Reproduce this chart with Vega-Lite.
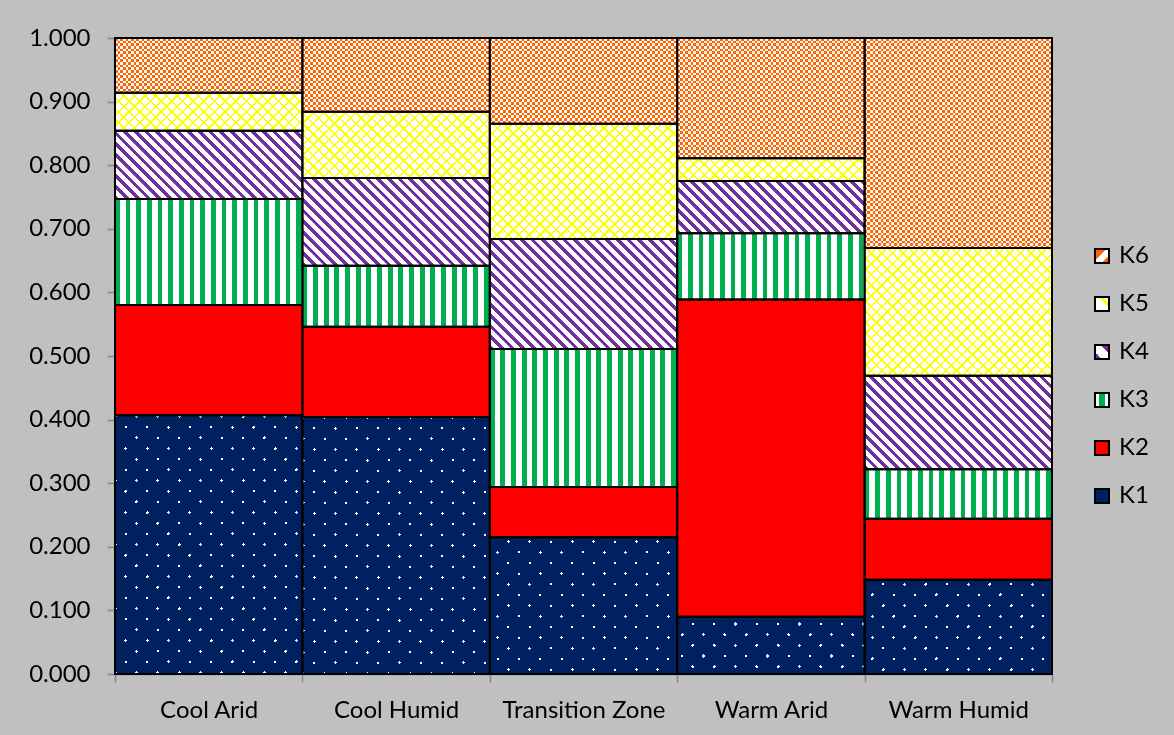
{
"$schema":"https://vega.github.io/schema/vega-lite/v6.json",
"autosize":"none",
"width":937,"height":636,
"padding":{"left":115,"top":38,"right":122,"bottom":61},
"background":"#C0C0C0",
"params":[
{"name":"S30a","value":[
{"offset":0,"color":"#000"},{"offset":0.015,"color":"#000"},{"offset":0.015,"color":"#fff"},{"offset":0.03333,"color":"#fff"},
{"offset":0.03333,"color":"#000"},{"offset":0.04833,"color":"#000"},{"offset":0.04833,"color":"#fff"},{"offset":0.06667,"color":"#fff"},
{"offset":0.06667,"color":"#000"},{"offset":0.08167,"color":"#000"},{"offset":0.08167,"color":"#fff"},{"offset":0.1,"color":"#fff"},
{"offset":0.1,"color":"#000"},{"offset":0.115,"color":"#000"},{"offset":0.115,"color":"#fff"},{"offset":0.13333,"color":"#fff"},
{"offset":0.13333,"color":"#000"},{"offset":0.14833,"color":"#000"},{"offset":0.14833,"color":"#fff"},{"offset":0.16667,"color":"#fff"},
{"offset":0.16667,"color":"#000"},{"offset":0.18167,"color":"#000"},{"offset":0.18167,"color":"#fff"},{"offset":0.2,"color":"#fff"},
{"offset":0.2,"color":"#000"},{"offset":0.215,"color":"#000"},{"offset":0.215,"color":"#fff"},{"offset":0.23333,"color":"#fff"},
{"offset":0.23333,"color":"#000"},{"offset":0.24833,"color":"#000"},{"offset":0.24833,"color":"#fff"},{"offset":0.26667,"color":"#fff"},
{"offset":0.26667,"color":"#000"},{"offset":0.28167,"color":"#000"},{"offset":0.28167,"color":"#fff"},{"offset":0.3,"color":"#fff"},
{"offset":0.3,"color":"#000"},{"offset":0.315,"color":"#000"},{"offset":0.315,"color":"#fff"},{"offset":0.33333,"color":"#fff"},
{"offset":0.33333,"color":"#000"},{"offset":0.34833,"color":"#000"},{"offset":0.34833,"color":"#fff"},{"offset":0.36667,"color":"#fff"},
{"offset":0.36667,"color":"#000"},{"offset":0.38167,"color":"#000"},{"offset":0.38167,"color":"#fff"},{"offset":0.4,"color":"#fff"},
{"offset":0.4,"color":"#000"},{"offset":0.415,"color":"#000"},{"offset":0.415,"color":"#fff"},{"offset":0.43333,"color":"#fff"},
{"offset":0.43333,"color":"#000"},{"offset":0.44833,"color":"#000"},{"offset":0.44833,"color":"#fff"},{"offset":0.46667,"color":"#fff"},
{"offset":0.46667,"color":"#000"},{"offset":0.48167,"color":"#000"},{"offset":0.48167,"color":"#fff"},{"offset":0.5,"color":"#fff"},
{"offset":0.5,"color":"#000"},{"offset":0.515,"color":"#000"},{"offset":0.515,"color":"#fff"},{"offset":0.53333,"color":"#fff"},
{"offset":0.53333,"color":"#000"},{"offset":0.54833,"color":"#000"},{"offset":0.54833,"color":"#fff"},{"offset":0.56667,"color":"#fff"},
{"offset":0.56667,"color":"#000"},{"offset":0.58167,"color":"#000"},{"offset":0.58167,"color":"#fff"},{"offset":0.6,"color":"#fff"},
{"offset":0.6,"color":"#000"},{"offset":0.615,"color":"#000"},{"offset":0.615,"color":"#fff"},{"offset":0.63333,"color":"#fff"},
{"offset":0.63333,"color":"#000"},{"offset":0.64833,"color":"#000"},{"offset":0.64833,"color":"#fff"},{"offset":0.66667,"color":"#fff"},
{"offset":0.66667,"color":"#000"},{"offset":0.68167,"color":"#000"},{"offset":0.68167,"color":"#fff"},{"offset":0.7,"color":"#fff"},
{"offset":0.7,"color":"#000"},{"offset":0.715,"color":"#000"},{"offset":0.715,"color":"#fff"},{"offset":0.73333,"color":"#fff"},
{"offset":0.73333,"color":"#000"},{"offset":0.74833,"color":"#000"},{"offset":0.74833,"color":"#fff"},{"offset":0.76667,"color":"#fff"},
{"offset":0.76667,"color":"#000"},{"offset":0.78167,"color":"#000"},{"offset":0.78167,"color":"#fff"},{"offset":0.8,"color":"#fff"},
{"offset":0.8,"color":"#000"},{"offset":0.815,"color":"#000"},{"offset":0.815,"color":"#fff"},{"offset":0.83333,"color":"#fff"},
{"offset":0.83333,"color":"#000"},{"offset":0.84833,"color":"#000"},{"offset":0.84833,"color":"#fff"},{"offset":0.86667,"color":"#fff"},
{"offset":0.86667,"color":"#000"},{"offset":0.88167,"color":"#000"},{"offset":0.88167,"color":"#fff"},{"offset":0.9,"color":"#fff"},
{"offset":0.9,"color":"#000"},{"offset":0.915,"color":"#000"},{"offset":0.915,"color":"#fff"},{"offset":0.93333,"color":"#fff"},
{"offset":0.93333,"color":"#000"},{"offset":0.94833,"color":"#000"},{"offset":0.94833,"color":"#fff"},{"offset":0.96667,"color":"#fff"},
{"offset":0.96667,"color":"#000"},{"offset":0.98167,"color":"#000"},{"offset":0.98167,"color":"#fff"},{"offset":1,"color":"#fff"}
]},
{"name":"S30b","value":[
{"offset":0,"color":"#000"},{"offset":0.00733,"color":"#000"},{"offset":0.00733,"color":"#fff"},{"offset":0.03333,"color":"#fff"},
{"offset":0.03333,"color":"#000"},{"offset":0.04067,"color":"#000"},{"offset":0.04067,"color":"#fff"},{"offset":0.06667,"color":"#fff"},
{"offset":0.06667,"color":"#000"},{"offset":0.074,"color":"#000"},{"offset":0.074,"color":"#fff"},{"offset":0.1,"color":"#fff"},
{"offset":0.1,"color":"#000"},{"offset":0.10733,"color":"#000"},{"offset":0.10733,"color":"#fff"},{"offset":0.13333,"color":"#fff"},
{"offset":0.13333,"color":"#000"},{"offset":0.14067,"color":"#000"},{"offset":0.14067,"color":"#fff"},{"offset":0.16667,"color":"#fff"},
{"offset":0.16667,"color":"#000"},{"offset":0.174,"color":"#000"},{"offset":0.174,"color":"#fff"},{"offset":0.2,"color":"#fff"},
{"offset":0.2,"color":"#000"},{"offset":0.20733,"color":"#000"},{"offset":0.20733,"color":"#fff"},{"offset":0.23333,"color":"#fff"},
{"offset":0.23333,"color":"#000"},{"offset":0.24067,"color":"#000"},{"offset":0.24067,"color":"#fff"},{"offset":0.26667,"color":"#fff"},
{"offset":0.26667,"color":"#000"},{"offset":0.274,"color":"#000"},{"offset":0.274,"color":"#fff"},{"offset":0.3,"color":"#fff"},
{"offset":0.3,"color":"#000"},{"offset":0.30733,"color":"#000"},{"offset":0.30733,"color":"#fff"},{"offset":0.33333,"color":"#fff"},
{"offset":0.33333,"color":"#000"},{"offset":0.34067,"color":"#000"},{"offset":0.34067,"color":"#fff"},{"offset":0.36667,"color":"#fff"},
{"offset":0.36667,"color":"#000"},{"offset":0.374,"color":"#000"},{"offset":0.374,"color":"#fff"},{"offset":0.4,"color":"#fff"},
{"offset":0.4,"color":"#000"},{"offset":0.40733,"color":"#000"},{"offset":0.40733,"color":"#fff"},{"offset":0.43333,"color":"#fff"},
{"offset":0.43333,"color":"#000"},{"offset":0.44067,"color":"#000"},{"offset":0.44067,"color":"#fff"},{"offset":0.46667,"color":"#fff"},
{"offset":0.46667,"color":"#000"},{"offset":0.474,"color":"#000"},{"offset":0.474,"color":"#fff"},{"offset":0.5,"color":"#fff"},
{"offset":0.5,"color":"#000"},{"offset":0.50733,"color":"#000"},{"offset":0.50733,"color":"#fff"},{"offset":0.53333,"color":"#fff"},
{"offset":0.53333,"color":"#000"},{"offset":0.54067,"color":"#000"},{"offset":0.54067,"color":"#fff"},{"offset":0.56667,"color":"#fff"},
{"offset":0.56667,"color":"#000"},{"offset":0.574,"color":"#000"},{"offset":0.574,"color":"#fff"},{"offset":0.6,"color":"#fff"},
{"offset":0.6,"color":"#000"},{"offset":0.60733,"color":"#000"},{"offset":0.60733,"color":"#fff"},{"offset":0.63333,"color":"#fff"},
{"offset":0.63333,"color":"#000"},{"offset":0.64067,"color":"#000"},{"offset":0.64067,"color":"#fff"},{"offset":0.66667,"color":"#fff"},
{"offset":0.66667,"color":"#000"},{"offset":0.674,"color":"#000"},{"offset":0.674,"color":"#fff"},{"offset":0.7,"color":"#fff"},
{"offset":0.7,"color":"#000"},{"offset":0.70733,"color":"#000"},{"offset":0.70733,"color":"#fff"},{"offset":0.73333,"color":"#fff"},
{"offset":0.73333,"color":"#000"},{"offset":0.74067,"color":"#000"},{"offset":0.74067,"color":"#fff"},{"offset":0.76667,"color":"#fff"},
{"offset":0.76667,"color":"#000"},{"offset":0.774,"color":"#000"},{"offset":0.774,"color":"#fff"},{"offset":0.8,"color":"#fff"},
{"offset":0.8,"color":"#000"},{"offset":0.80733,"color":"#000"},{"offset":0.80733,"color":"#fff"},{"offset":0.83333,"color":"#fff"},
{"offset":0.83333,"color":"#000"},{"offset":0.84067,"color":"#000"},{"offset":0.84067,"color":"#fff"},{"offset":0.86667,"color":"#fff"},
{"offset":0.86667,"color":"#000"},{"offset":0.874,"color":"#000"},{"offset":0.874,"color":"#fff"},{"offset":0.9,"color":"#fff"},
{"offset":0.9,"color":"#000"},{"offset":0.90733,"color":"#000"},{"offset":0.90733,"color":"#fff"},{"offset":0.93333,"color":"#fff"},
{"offset":0.93333,"color":"#000"},{"offset":0.94067,"color":"#000"},{"offset":0.94067,"color":"#fff"},{"offset":0.96667,"color":"#fff"},
{"offset":0.96667,"color":"#000"},{"offset":0.974,"color":"#000"},{"offset":0.974,"color":"#fff"},{"offset":1,"color":"#fff"}
]},
{"name":"S40","value":[
{"offset":0,"color":"#fff"},{"offset":0.0125,"color":"#fff"},{"offset":0.0125,"color":"#000"},{"offset":0.025,"color":"#000"},
{"offset":0.025,"color":"#fff"},{"offset":0.0375,"color":"#fff"},{"offset":0.0375,"color":"#000"},{"offset":0.05,"color":"#000"},
{"offset":0.05,"color":"#fff"},{"offset":0.0625,"color":"#fff"},{"offset":0.0625,"color":"#000"},{"offset":0.075,"color":"#000"},
{"offset":0.075,"color":"#fff"},{"offset":0.0875,"color":"#fff"},{"offset":0.0875,"color":"#000"},{"offset":0.1,"color":"#000"},
{"offset":0.1,"color":"#fff"},{"offset":0.1125,"color":"#fff"},{"offset":0.1125,"color":"#000"},{"offset":0.125,"color":"#000"},
{"offset":0.125,"color":"#fff"},{"offset":0.1375,"color":"#fff"},{"offset":0.1375,"color":"#000"},{"offset":0.15,"color":"#000"},
{"offset":0.15,"color":"#fff"},{"offset":0.1625,"color":"#fff"},{"offset":0.1625,"color":"#000"},{"offset":0.175,"color":"#000"},
{"offset":0.175,"color":"#fff"},{"offset":0.1875,"color":"#fff"},{"offset":0.1875,"color":"#000"},{"offset":0.2,"color":"#000"},
{"offset":0.2,"color":"#fff"},{"offset":0.2125,"color":"#fff"},{"offset":0.2125,"color":"#000"},{"offset":0.225,"color":"#000"},
{"offset":0.225,"color":"#fff"},{"offset":0.2375,"color":"#fff"},{"offset":0.2375,"color":"#000"},{"offset":0.25,"color":"#000"},
{"offset":0.25,"color":"#fff"},{"offset":0.2625,"color":"#fff"},{"offset":0.2625,"color":"#000"},{"offset":0.275,"color":"#000"},
{"offset":0.275,"color":"#fff"},{"offset":0.2875,"color":"#fff"},{"offset":0.2875,"color":"#000"},{"offset":0.3,"color":"#000"},
{"offset":0.3,"color":"#fff"},{"offset":0.3125,"color":"#fff"},{"offset":0.3125,"color":"#000"},{"offset":0.325,"color":"#000"},
{"offset":0.325,"color":"#fff"},{"offset":0.3375,"color":"#fff"},{"offset":0.3375,"color":"#000"},{"offset":0.35,"color":"#000"},
{"offset":0.35,"color":"#fff"},{"offset":0.3625,"color":"#fff"},{"offset":0.3625,"color":"#000"},{"offset":0.375,"color":"#000"},
{"offset":0.375,"color":"#fff"},{"offset":0.3875,"color":"#fff"},{"offset":0.3875,"color":"#000"},{"offset":0.4,"color":"#000"},
{"offset":0.4,"color":"#fff"},{"offset":0.4125,"color":"#fff"},{"offset":0.4125,"color":"#000"},{"offset":0.425,"color":"#000"},
{"offset":0.425,"color":"#fff"},{"offset":0.4375,"color":"#fff"},{"offset":0.4375,"color":"#000"},{"offset":0.45,"color":"#000"},
{"offset":0.45,"color":"#fff"},{"offset":0.4625,"color":"#fff"},{"offset":0.4625,"color":"#000"},{"offset":0.475,"color":"#000"},
{"offset":0.475,"color":"#fff"},{"offset":0.4875,"color":"#fff"},{"offset":0.4875,"color":"#000"},{"offset":0.5,"color":"#000"},
{"offset":0.5,"color":"#fff"},{"offset":0.5125,"color":"#fff"},{"offset":0.5125,"color":"#000"},{"offset":0.525,"color":"#000"},
{"offset":0.525,"color":"#fff"},{"offset":0.5375,"color":"#fff"},{"offset":0.5375,"color":"#000"},{"offset":0.55,"color":"#000"},
{"offset":0.55,"color":"#fff"},{"offset":0.5625,"color":"#fff"},{"offset":0.5625,"color":"#000"},{"offset":0.575,"color":"#000"},
{"offset":0.575,"color":"#fff"},{"offset":0.5875,"color":"#fff"},{"offset":0.5875,"color":"#000"},{"offset":0.6,"color":"#000"},
{"offset":0.6,"color":"#fff"},{"offset":0.6125,"color":"#fff"},{"offset":0.6125,"color":"#000"},{"offset":0.625,"color":"#000"},
{"offset":0.625,"color":"#fff"},{"offset":0.6375,"color":"#fff"},{"offset":0.6375,"color":"#000"},{"offset":0.65,"color":"#000"},
{"offset":0.65,"color":"#fff"},{"offset":0.6625,"color":"#fff"},{"offset":0.6625,"color":"#000"},{"offset":0.675,"color":"#000"},
{"offset":0.675,"color":"#fff"},{"offset":0.6875,"color":"#fff"},{"offset":0.6875,"color":"#000"},{"offset":0.7,"color":"#000"},
{"offset":0.7,"color":"#fff"},{"offset":0.7125,"color":"#fff"},{"offset":0.7125,"color":"#000"},{"offset":0.725,"color":"#000"},
{"offset":0.725,"color":"#fff"},{"offset":0.7375,"color":"#fff"},{"offset":0.7375,"color":"#000"},{"offset":0.75,"color":"#000"},
{"offset":0.75,"color":"#fff"},{"offset":0.7625,"color":"#fff"},{"offset":0.7625,"color":"#000"},{"offset":0.775,"color":"#000"},
{"offset":0.775,"color":"#fff"},{"offset":0.7875,"color":"#fff"},{"offset":0.7875,"color":"#000"},{"offset":0.8,"color":"#000"},
{"offset":0.8,"color":"#fff"},{"offset":0.8125,"color":"#fff"},{"offset":0.8125,"color":"#000"},{"offset":0.825,"color":"#000"},
{"offset":0.825,"color":"#fff"},{"offset":0.8375,"color":"#fff"},{"offset":0.8375,"color":"#000"},{"offset":0.85,"color":"#000"},
{"offset":0.85,"color":"#fff"},{"offset":0.8625,"color":"#fff"},{"offset":0.8625,"color":"#000"},{"offset":0.875,"color":"#000"},
{"offset":0.875,"color":"#fff"},{"offset":0.8875,"color":"#fff"},{"offset":0.8875,"color":"#000"},{"offset":0.9,"color":"#000"},
{"offset":0.9,"color":"#fff"},{"offset":0.9125,"color":"#fff"},{"offset":0.9125,"color":"#000"},{"offset":0.925,"color":"#000"},
{"offset":0.925,"color":"#fff"},{"offset":0.9375,"color":"#fff"},{"offset":0.9375,"color":"#000"},{"offset":0.95,"color":"#000"},
{"offset":0.95,"color":"#fff"},{"offset":0.9625,"color":"#fff"},{"offset":0.9625,"color":"#000"},{"offset":0.975,"color":"#000"},
{"offset":0.975,"color":"#fff"},{"offset":0.9875,"color":"#fff"},{"offset":0.9875,"color":"#000"},{"offset":1,"color":"#000"}
]},
{"name":"S21","value":[
{"offset":0,"color":"#fff"},{"offset":0.007,"color":"#fff"},{"offset":0.007,"color":"#000"},{"offset":0.04762,"color":"#000"},
{"offset":0.04762,"color":"#fff"},{"offset":0.05462,"color":"#fff"},{"offset":0.05462,"color":"#000"},{"offset":0.09524,"color":"#000"},
{"offset":0.09524,"color":"#fff"},{"offset":0.10224,"color":"#fff"},{"offset":0.10224,"color":"#000"},{"offset":0.14286,"color":"#000"},
{"offset":0.14286,"color":"#fff"},{"offset":0.14986,"color":"#fff"},{"offset":0.14986,"color":"#000"},{"offset":0.19048,"color":"#000"},
{"offset":0.19048,"color":"#fff"},{"offset":0.19748,"color":"#fff"},{"offset":0.19748,"color":"#000"},{"offset":0.2381,"color":"#000"},
{"offset":0.2381,"color":"#fff"},{"offset":0.2451,"color":"#fff"},{"offset":0.2451,"color":"#000"},{"offset":0.28571,"color":"#000"},
{"offset":0.28571,"color":"#fff"},{"offset":0.29271,"color":"#fff"},{"offset":0.29271,"color":"#000"},{"offset":0.33333,"color":"#000"},
{"offset":0.33333,"color":"#fff"},{"offset":0.34033,"color":"#fff"},{"offset":0.34033,"color":"#000"},{"offset":0.38095,"color":"#000"},
{"offset":0.38095,"color":"#fff"},{"offset":0.38795,"color":"#fff"},{"offset":0.38795,"color":"#000"},{"offset":0.42857,"color":"#000"},
{"offset":0.42857,"color":"#fff"},{"offset":0.43557,"color":"#fff"},{"offset":0.43557,"color":"#000"},{"offset":0.47619,"color":"#000"},
{"offset":0.47619,"color":"#fff"},{"offset":0.48319,"color":"#fff"},{"offset":0.48319,"color":"#000"},{"offset":0.52381,"color":"#000"},
{"offset":0.52381,"color":"#fff"},{"offset":0.53081,"color":"#fff"},{"offset":0.53081,"color":"#000"},{"offset":0.57143,"color":"#000"},
{"offset":0.57143,"color":"#fff"},{"offset":0.57843,"color":"#fff"},{"offset":0.57843,"color":"#000"},{"offset":0.61905,"color":"#000"},
{"offset":0.61905,"color":"#fff"},{"offset":0.62605,"color":"#fff"},{"offset":0.62605,"color":"#000"},{"offset":0.66667,"color":"#000"},
{"offset":0.66667,"color":"#fff"},{"offset":0.67367,"color":"#fff"},{"offset":0.67367,"color":"#000"},{"offset":0.71429,"color":"#000"},
{"offset":0.71429,"color":"#fff"},{"offset":0.72129,"color":"#fff"},{"offset":0.72129,"color":"#000"},{"offset":0.7619,"color":"#000"},
{"offset":0.7619,"color":"#fff"},{"offset":0.7689,"color":"#fff"},{"offset":0.7689,"color":"#000"},{"offset":0.80952,"color":"#000"},
{"offset":0.80952,"color":"#fff"},{"offset":0.81652,"color":"#fff"},{"offset":0.81652,"color":"#000"},{"offset":0.85714,"color":"#000"},
{"offset":0.85714,"color":"#fff"},{"offset":0.86414,"color":"#fff"},{"offset":0.86414,"color":"#000"},{"offset":0.90476,"color":"#000"},
{"offset":0.90476,"color":"#fff"},{"offset":0.91176,"color":"#fff"},{"offset":0.91176,"color":"#000"},{"offset":0.95238,"color":"#000"},
{"offset":0.95238,"color":"#fff"},{"offset":0.95938,"color":"#fff"},{"offset":0.95938,"color":"#000"},{"offset":1,"color":"#000"}
]}
],
"data":{"values":[
{"cat":"Cool Arid","k":"K1","v":0.407},{"cat":"Cool Arid","k":"K2","v":0.173},{"cat":"Cool Arid","k":"K3","v":0.167},{"cat":"Cool Arid","k":"K4","v":0.107},{"cat":"Cool Arid","k":"K5","v":0.060},{"cat":"Cool Arid","k":"K6","v":0.086},
{"cat":"Cool Humid","k":"K1","v":0.404},{"cat":"Cool Humid","k":"K2","v":0.142},{"cat":"Cool Humid","k":"K3","v":0.096},{"cat":"Cool Humid","k":"K4","v":0.138},{"cat":"Cool Humid","k":"K5","v":0.104},{"cat":"Cool Humid","k":"K6","v":0.116},
{"cat":"Transition Zone","k":"K1","v":0.215},{"cat":"Transition Zone","k":"K2","v":0.079},{"cat":"Transition Zone","k":"K3","v":0.217},{"cat":"Transition Zone","k":"K4","v":0.173},{"cat":"Transition Zone","k":"K5","v":0.181},{"cat":"Transition Zone","k":"K6","v":0.135},
{"cat":"Warm Arid","k":"K1","v":0.090},{"cat":"Warm Arid","k":"K2","v":0.499},{"cat":"Warm Arid","k":"K3","v":0.104},{"cat":"Warm Arid","k":"K4","v":0.082},{"cat":"Warm Arid","k":"K5","v":0.036},{"cat":"Warm Arid","k":"K6","v":0.189},
{"cat":"Warm Humid","k":"K1","v":0.148},{"cat":"Warm Humid","k":"K2","v":0.096},{"cat":"Warm Humid","k":"K3","v":0.078},{"cat":"Warm Humid","k":"K4","v":0.147},{"cat":"Warm Humid","k":"K5","v":0.201},{"cat":"Warm Humid","k":"K6","v":0.330}
]},
"transform":[{"stack":"v","groupby":["cat"],"sort":[{"field":"k","order":"ascending"}],"as":["y0","y1"]}],
"encoding":{
"x":{"field":"cat","type":"nominal","sort":["Cool Arid","Cool Humid","Transition Zone","Warm Arid","Warm Humid"],"scale":{"paddingInner":0,"paddingOuter":0},
"axis":{"title":null,"labelAngle":0,"tickBand":"extent","tickSize":8,"tickColor":"#868686","tickWidth":1.5,"domainColor":"#868686","domainWidth":1.5,"labelFontSize":24,"labelFont":"Lato","labelColor":"#000","labelPadding":16}},
"y":{"field":"y1","type":"quantitative","scale":{"domain":[0,1],"nice":false},
"axis":{"title":null,"values":[0,0.1,0.2,0.3,0.4,0.5,0.6,0.7,0.8,0.9,1],"format":".3f","grid":false,"tickSize":8,"tickColor":"#868686","tickWidth":1.5,"domainColor":"#868686","domainWidth":1.5,"labelFontSize":24,"labelFont":"Lato","labelColor":"#000","labelPadding":17}},
"y2":{"field":"y0"}
},
"layer":[
{"mark":{"type":"bar"},
"encoding":{"fill":{"field":"k","type":"nominal","scale":{"domain":["K6","K5","K4","K3","K2","K1"],"range":[
{"expr":"{gradient:'linear',x1:0,y1:0,x2:1,y2:1,stops:[{offset:0,color:'#FF6600'},{offset:0.42,color:'#FF6600'},{offset:0.42,color:'#fff'},{offset:0.72,color:'#fff'},{offset:0.72,color:'#FF6600'},{offset:1,color:'#FF6600'}]}"},
{"expr":"{gradient:'linear',x1:0,y1:1,x2:1,y2:0,stops:[{offset:0,color:'#fff'},{offset:0.62,color:'#fff'},{offset:0.62,color:'#FFFF00'},{offset:0.78,color:'#FFFF00'},{offset:0.78,color:'#fff'},{offset:1,color:'#fff'}]}"},
{"expr":"{gradient:'linear',x1:0,y1:1,x2:1,y2:0,stops:[{offset:0,color:'#7030A0'},{offset:0.25,color:'#7030A0'},{offset:0.25,color:'#fff'},{offset:0.7,color:'#fff'},{offset:0.7,color:'#7030A0'},{offset:1,color:'#7030A0'}]}"},
{"expr":"{gradient:'linear',x1:0,y1:0,x2:1,y2:0,stops:[{offset:0,color:'#fff'},{offset:0.3,color:'#fff'},{offset:0.3,color:'#00B050'},{offset:0.7,color:'#00B050'},{offset:0.7,color:'#fff'},{offset:1,color:'#fff'}]}"},
"#FF0000","#002060"]},
"legend":{"title":null,"orient":"none","legendX":975,"legendY":206,"symbolType":"square","symbolSize":196,"symbolStrokeWidth":2,"symbolStrokeColor":"#000","symbolOpacity":1,"labelFontSize":24,"labelFont":"Lato","labelColor":"#000","rowPadding":24,"labelOffset":5,"padding":0}}}},
{"transform":[{"filter":"datum.k==='K3'"}],"mark":{"type":"bar","fill":{"expr":"{gradient:'linear',x1:0,y1:0,x2:320/bandwidth('x'),y2:0,stops:S30a}"}}},
{"transform":[{"filter":"datum.k==='K4'"}],"mark":{"type":"bar","fill":{"expr":"{gradient:'linear',x1:0,y1:1,x2:bandwidth('x')*320/(bandwidth('x')*bandwidth('x')+pow(scale('y',datum.y0)-scale('y',datum.y1),2)),y2:1-(scale('y',datum.y0)-scale('y',datum.y1))*320/(bandwidth('x')*bandwidth('x')+pow(scale('y',datum.y0)-scale('y',datum.y1),2)),stops:S30a}"}}},
{"transform":[{"filter":"datum.k==='K5'"}],"mark":{"type":"bar","fill":{"expr":"{gradient:'linear',x1:0,y1:0,x2:bandwidth('x')*320/(bandwidth('x')*bandwidth('x')+pow(scale('y',datum.y0)-scale('y',datum.y1),2)),y2:(scale('y',datum.y0)-scale('y',datum.y1))*320/(bandwidth('x')*bandwidth('x')+pow(scale('y',datum.y0)-scale('y',datum.y1),2)),stops:S30b}"}}},
{"transform":[{"filter":"datum.k==='K5'"}],"mark":{"type":"bar","blend":"multiply","fill":{"expr":"{gradient:'linear',x1:0,y1:1,x2:bandwidth('x')*320/(bandwidth('x')*bandwidth('x')+pow(scale('y',datum.y0)-scale('y',datum.y1),2)),y2:1-(scale('y',datum.y0)-scale('y',datum.y1))*320/(bandwidth('x')*bandwidth('x')+pow(scale('y',datum.y0)-scale('y',datum.y1),2)),stops:S30b}"}}},
{"transform":[{"filter":"datum.k==='K6'"}],"mark":{"type":"bar","fill":{"expr":"{gradient:'linear',x1:0,y1:0,x2:213.3/bandwidth('x'),y2:0,stops:S40}"}}},
{"transform":[{"filter":"datum.k==='K6'"}],"mark":{"type":"bar","blend":"difference","fill":{"expr":"{gradient:'linear',x1:0,y1:0,x2:0,y2:213.3/(scale('y',datum.y0)-scale('y',datum.y1)),stops:S40}"}}},
{"transform":[{"filter":"datum.k==='K1'"}],"mark":{"type":"bar","fill":{"expr":"{gradient:'linear',x1:0,y1:0,x2:bandwidth('x')*448/(bandwidth('x')*bandwidth('x')+pow(scale('y',datum.y0)-scale('y',datum.y1),2)),y2:(scale('y',datum.y0)-scale('y',datum.y1))*448/(bandwidth('x')*bandwidth('x')+pow(scale('y',datum.y0)-scale('y',datum.y1),2)),stops:S21}"}}},
{"transform":[{"filter":"datum.k==='K1'"}],"mark":{"type":"bar","blend":"multiply","fill":{"expr":"{gradient:'linear',x1:0,y1:1,x2:bandwidth('x')*448/(bandwidth('x')*bandwidth('x')+pow(scale('y',datum.y0)-scale('y',datum.y1),2)),y2:1-(scale('y',datum.y0)-scale('y',datum.y1))*448/(bandwidth('x')*bandwidth('x')+pow(scale('y',datum.y0)-scale('y',datum.y1),2)),stops:S21}"}}},
{"transform":[{"filter":"datum.k!=='K2'"}],"mark":{"type":"bar","blend":"screen"},
"encoding":{"color":{"field":"k","type":"nominal","scale":{"domain":["K6","K5","K4","K3","K2","K1"],"range":["#FF6600","#FFFF00","#7030A0","#00B050","#FF0000","#002060"]},"legend":null}}},
{"mark":{"type":"bar","fill":"transparent","stroke":"#000","strokeWidth":2}}
],
"config":{"view":{"stroke":null},"font":"Lato"}
}
